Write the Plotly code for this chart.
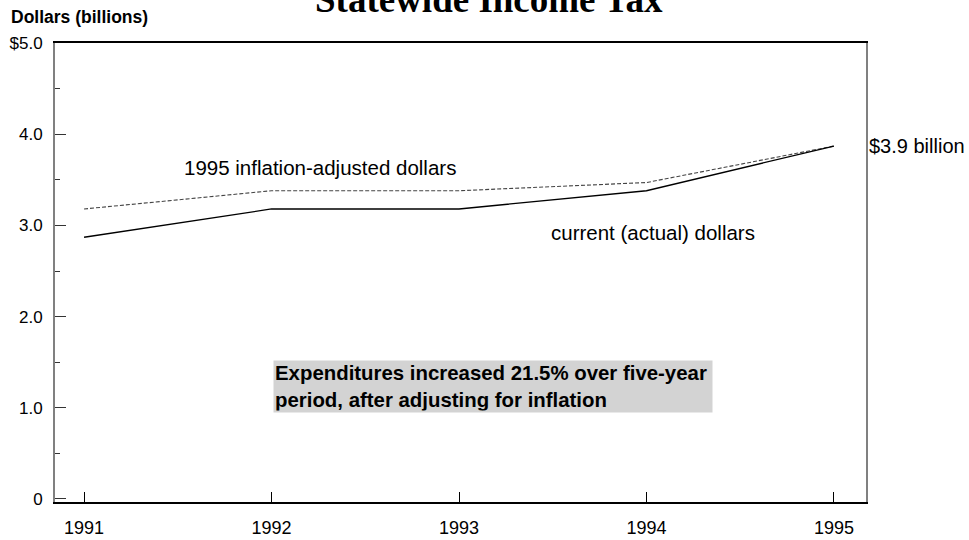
import plotly.graph_objects as go

years = [1991, 1992, 1993, 1994, 1995]
adjusted = [3.18, 3.38, 3.38, 3.47, 3.87]
current = [2.87, 3.18, 3.18, 3.38, 3.87]
y_tick_vals = [0, 1, 2, 3, 4, 5]
y_tick_text = ["0", "1.0", "2.0", "3.0", "4.0", "$5.0"]

fig = go.Figure()
fig.add_trace(go.Scatter(x=years, y=adjusted, mode="lines",
                         line=dict(color="#444444", width=1.1, dash="4px,2px"),
                         showlegend=False, hoverinfo="skip"))
fig.add_trace(go.Scatter(x=years, y=current, mode="lines",
                         line=dict(color="black", width=1.3),
                         showlegend=False, hoverinfo="skip"))

font = "Liberation Sans, Arial, sans-serif"

fig.update_layout(
    template="none",
    width=969, height=540,
    margin=dict(l=55, r=103, t=43, b=38, autoexpand=False),
    paper_bgcolor="white", plot_bgcolor="white",
    font=dict(family=font, size=18, color="black"),
    xaxis=dict(range=[1990.845, 1995.171], tickvals=years,
               ticktext=[str(y) for y in years], automargin=False,
               ticks="inside", ticklen=10, tickcolor="black", tickwidth=1,
               showline=True, linecolor="black", linewidth=1.5, mirror=True,
               showgrid=False, zeroline=False, ticklabelstandoff=9,
               tickfont=dict(size=18, family=font)),
    yaxis=dict(range=[-0.033, 5.0], tickvals=y_tick_vals, ticktext=y_tick_text,
               automargin=False,
               ticks="inside", ticklen=11, tickcolor="#333333", tickwidth=1,
               minor=dict(dtick=0.5, ticks="inside", ticklen=5, tickcolor="#333333", tickwidth=1),
               showline=True, linecolor="#808080", linewidth=2, mirror=True,
               showgrid=False, zeroline=False, ticklabelstandoff=7,
               tickfont=dict(size=17, family=font)),
)

fig.add_annotation(text="<b>Statewide Income Tax</b>", xref="paper", yref="paper",
                   x=(489 - 55) / 811, y=1.0, yshift=21, xanchor="center", yanchor="bottom",
                   showarrow=False,
                   font=dict(family="Liberation Serif, Times New Roman, serif", size=37, color="black"))
fig.add_annotation(text="<b>Dollars (billions)</b>", xref="paper", yref="paper",
                   x=0, xshift=-46, y=1.0, yshift=26, xanchor="left", yanchor="middle",
                   showarrow=False, font=dict(family=font, size=17.5))
fig.add_annotation(text="1995 inflation-adjusted dollars", x=1991.523, y=3.64,
                   xanchor="left", yanchor="middle", showarrow=False,
                   font=dict(family=font, size=20.5))
fig.add_annotation(text="current (actual) dollars", x=1993.48, y=2.92,
                   xanchor="left", yanchor="middle", showarrow=False,
                   font=dict(family=font, size=20.5))
fig.add_annotation(text="$3.9 billion", xref="paper", x=1.0, xshift=1, y=3.87,
                   xanchor="left", yanchor="middle", showarrow=False,
                   font=dict(family=font, size=20))
fig.add_annotation(text="<b>Expenditures increased 21.5% over five-year<br>period, after adjusting for inflation</b>",
                   x=1992.008, y=1.527, xanchor="left", yanchor="top", align="left",
                   showarrow=False, bgcolor="#d3d3d3", borderpad=1, width=436,
                   font=dict(family=font, size=20.4))

fig.write_html("out.html", config={"displayModeBar": False},
               post_script="document.body.style.margin='0px';")
